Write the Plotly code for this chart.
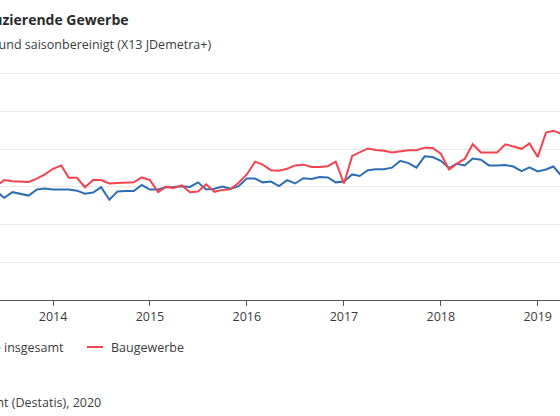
import pandas as pd
import plotly.graph_objects as go

# monthly index values, 2015 = 100
months = pd.date_range("2013-06-01", "2019-04-01", freq="MS")

produzierendes_gewerbe = [
    98.8, 97.1, 98.6, 98.2, 97.7, 99.3, 99.6,
    99.3, 99.3, 99.3, 99.0, 98.2, 98.5, 99.9, 96.6, 98.8, 98.9, 98.9, 100.5,
    99.3, 99.3, 99.9, 100.0, 100.2, 100.0, 101.2, 99.3, 99.5, 100.1, 99.5, 100.2,
    102.2, 102.2, 101.2, 101.4, 100.2, 101.8, 100.9, 102.3, 102.1, 102.6, 102.5, 101.2,
    101.4, 103.3, 102.9, 104.4, 104.7, 104.7, 105.1, 106.9, 106.3, 105.1, 108.1, 107.9,
    106.9, 105.0, 106.1, 105.7, 107.5, 107.2, 105.7, 105.7, 105.8, 105.4, 104.2, 105.2,
    104.1, 104.6, 105.4, 102.9,
]

baugewerbe = [
    100.2, 101.8, 101.5, 101.3, 101.3, 102.2, 103.3,
    104.8, 105.7, 102.4, 102.4, 99.9, 101.8, 101.8, 100.9, 101.0, 101.0, 101.2, 102.5,
    101.8, 98.6, 100.0, 99.7, 100.4, 98.6, 98.8, 100.7, 98.7, 99.2, 99.4, 101.1,
    103.3, 106.7, 105.9, 104.4, 104.3, 104.8, 105.7, 105.9, 105.3, 105.3, 105.5, 106.7,
    100.9, 108.2, 109.2, 110.2, 109.8, 109.6, 109.1, 109.5, 109.7, 109.7, 110.4, 110.3,
    108.8, 104.6, 106.1, 107.4, 111.3, 109.1, 109.1, 109.1, 111.3, 110.7, 110.1, 111.5,
    107.9, 114.4, 114.9, 114.0,
]

series_names = ["Produzierende Gewerbe insgesamt", "Baugewerbe"]
series_colors = ["#2f6db3", "#f4434f"]

title = "Baugewerbe und Produzierende Gewerbe"
subtitle = "2015 = 100, kalender- und saisonbereinigt (X13 JDemetra+)"
source = "Quelle: Statistisches Bundesamt (Destatis), 2020"

W, H = 560, 416
M_TOP, M_BOT = 70, 116
FONT = "Open Sans"
TEXT = "#3c3c3c"


def px(x):
    return x / W


def py(y):
    # pixel row -> paper y (plot area spans rows M_TOP..H-M_BOT)
    return (H - M_BOT - y) / (H - M_BOT - M_TOP)


fig = go.Figure()
for name, values, color in zip(series_names, [produzierendes_gewerbe, baugewerbe], series_colors):
    fig.add_trace(go.Scatter(
        x=months, y=values, name=name, mode="lines",
        line=dict(color=color, width=2), showlegend=False,
    ))

fig.update_layout(
    width=W, height=H,
    margin=dict(l=0, r=0, t=M_TOP, b=M_BOT, autoexpand=False),
    paper_bgcolor="white", plot_bgcolor="white",
    font=dict(family=FONT, size=12.5, color=TEXT),
)

fig.update_xaxes(
    range=["2013-06-15", "2019-03-26"],
    dtick="M12", tick0="2014-01-01", tickformat="%Y",
    showgrid=False, showline=True, linecolor="#555", linewidth=1,
    ticks="outside", ticklen=5, tickcolor="#555",
    tickfont=dict(size=12.5, color=TEXT),
)
fig.update_yaxes(
    range=[70, 131], dtick=10, showticklabels=False,
    showgrid=True, gridcolor="#e9e9e9", gridwidth=1, zeroline=False,
)

# title block, partly cut off at the left edge like the original
fig.add_annotation(text="<b>" + title + "</b>", x=px(131), y=py(20), xref="paper", yref="paper",
                   xanchor="right", yanchor="middle", showarrow=False,
                   font=dict(size=14, color="#2b2b2b"))
fig.add_annotation(text=subtitle, x=px(213), y=py(44), xref="paper", yref="paper",
                   xanchor="right", yanchor="middle", showarrow=False,
                   font=dict(size=12.5, color=TEXT))

# legend built by hand
fig.add_shape(type="line", xref="paper", yref="paper", x0=px(-230), x1=px(-214), y0=py(347), y1=py(347),
              line=dict(color=series_colors[0], width=2))
fig.add_annotation(text=series_names[0], x=px(66), y=py(347), xref="paper", yref="paper",
                   xanchor="right", yanchor="middle", showarrow=False)
fig.add_shape(type="line", xref="paper", yref="paper", x0=px(87), x1=px(103), y0=py(347), y1=py(347),
              line=dict(color=series_colors[1], width=2))
fig.add_annotation(text=series_names[1], x=px(109), y=py(347), xref="paper", yref="paper",
                   xanchor="left", yanchor="middle", showarrow=False)

fig.add_annotation(text=source, x=px(103), y=py(402), xref="paper", yref="paper",
                   xanchor="right", yanchor="middle", showarrow=False)

# drop the default page margin so the chart sits flush with the window
fig.write_html("out.html", config={"displayModeBar": False},
               post_script="document.body.style.margin = '0';")
